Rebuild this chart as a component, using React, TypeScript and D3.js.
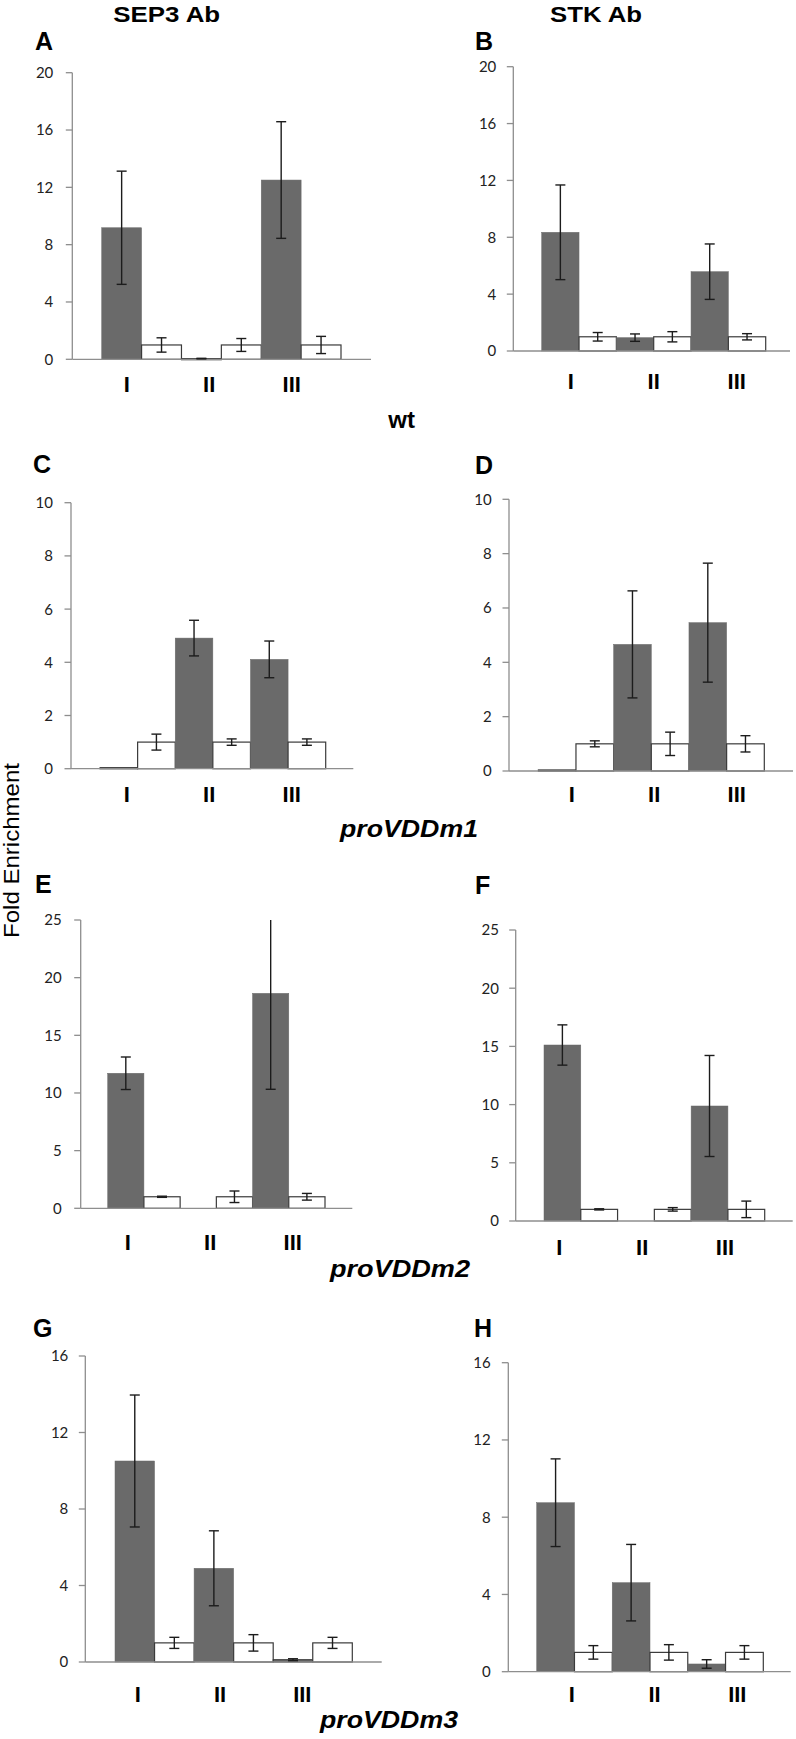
import React from "react";
import * as d3 from "d3";

// ---------- DATA ----------
const categories = ["I", "II", "III"];
const series = ["ChIP", "Control"];

const aGray = [9.18, 0.05, 12.51];
const aGrayErr = [3.95, 0.02, 4.07];
const aWhite = [1, 1, 1];
const aWhiteErr = [0.5, 0.45, 0.6];

const bGray = [8.35, 0.94, 5.58];
const bGrayErr = [3.33, 0.26, 1.95];
const bWhite = [1, 1, 1];
const bWhiteErr = [0.3, 0.36, 0.22];

const cGray = [0.04, 4.91, 4.11];
const cGrayErr = [0, 0.67, 0.69];
const cWhite = [1, 1, 1];
const cWhiteErr = [0.3, 0.12, 0.12];

const dGray = [0.04, 4.66, 5.46];
const dGrayErr = [0, 1.97, 2.19];
const dWhite = [1, 1, 1];
const dWhiteErr = [0.11, 0.43, 0.3];

const eGray = [11.71, 0, 18.64];
const eGrayErr = [1.41, 0, 8.32];
const eWhite = [1, 1, 1];
const eWhiteErr = [0.05, 0.5, 0.29];

const fGray = [15.12, 0, 9.88];
const fGrayErr = [1.73, 0, 4.34];
const fWhite = [1, 1, 1];
const fWhiteErr = [0.05, 0.15, 0.71];

const gGray = [10.51, 4.9, 0.12];
const gGrayErr = [3.45, 1.96, 0.05];
const gWhite = [1, 1, 1];
const gWhiteErr = [0.29, 0.43, 0.29];

const hGray = [8.75, 4.61, 0.4];
const hGrayErr = [2.27, 1.98, 0.22];
const hWhite = [1, 1, 1];
const hWhiteErr = [0.35, 0.4, 0.35];

const yMaxes = [20, 20, 10, 10, 25, 25, 16, 16];
const yStep = [4, 4, 2, 2, 5, 5, 4, 4];
const panelLetters = ["A", "B", "C", "D", "E", "F", "G", "H"];
const columnTitles = ["SEP3 Ab", "STK Ab"];
const rowTitles = ["wt", "proVDDm1", "proVDDm2", "proVDDm3"];
const yAxisTitle = "Fold Enrichment";

// ---------- LAYOUT ----------
type Layout = {
  axisX: number; top: number; bottom: number; axisEnd: number;
  barStart: number; barEnd: number; labelRange: [number, number];
  labelBase: number; letterX: number; letterY: number; tickGap: number;
};

const layouts: Layout[] = [
  { axisX: 72.3, top: 72.7, bottom: 359.3, axisEnd: 371, barStart: 101.7, barEnd: 341, labelRange: [126.7, 291.7], labelBase: 392, letterX: 35, letterY: 50, tickGap: 19 },
  { axisX: 513.3, top: 66.7, bottom: 351, axisEnd: 790, barStart: 541.7, barEnd: 765.7, labelRange: [570.7, 736.7], labelBase: 388.5, letterX: 475, letterY: 50, tickGap: 17 },
  { axisX: 71, top: 502.7, bottom: 768.7, axisEnd: 353.3, barStart: 100, barEnd: 325.7, labelRange: [126.7, 291.7], labelBase: 801.7, letterX: 33, letterY: 473.3, tickGap: 18 },
  { axisX: 509, top: 499.3, bottom: 771, axisEnd: 793, barStart: 538.3, barEnd: 764.3, labelRange: [571.7, 736.7], labelBase: 801.7, letterX: 475, letterY: 474, tickGap: 17.3 },
  { axisX: 80.7, top: 920, bottom: 1208.3, axisEnd: 352.3, barStart: 107.7, barEnd: 325, labelRange: [127.7, 292.7], labelBase: 1250, letterX: 35, letterY: 893.3, tickGap: 19 },
  { axisX: 515.7, top: 930, bottom: 1221, axisEnd: 792.7, barStart: 544, barEnd: 764.7, labelRange: [559.3, 725], labelBase: 1255, letterX: 475, letterY: 894, tickGap: 16.7 },
  { axisX: 85.3, top: 1356, bottom: 1662, axisEnd: 381.7, barStart: 115, barEnd: 352.3, labelRange: [137.7, 302.3], labelBase: 1701.7, letterX: 33, letterY: 1337.3, tickGap: 17 },
  { axisX: 508.3, top: 1362.7, bottom: 1671.7, axisEnd: 790.7, barStart: 536.7, barEnd: 763.3, labelRange: [571.7, 737.3], labelBase: 1701.7, letterX: 474, letterY: 1337.3, tickGap: 17.6 },
];

const panelData = [
  [aGray, aGrayErr, aWhite, aWhiteErr],
  [bGray, bGrayErr, bWhite, bWhiteErr],
  [cGray, cGrayErr, cWhite, cWhiteErr],
  [dGray, dGrayErr, dWhite, dWhiteErr],
  [eGray, eGrayErr, eWhite, eWhiteErr],
  [fGray, fGrayErr, fWhite, fWhiteErr],
  [gGray, gGrayErr, gWhite, gWhiteErr],
  [hGray, hGrayErr, hWhite, hWhiteErr],
];

const GRAY = "#6a6a6a";
const AXIS = "#8e8e8e";
const ERR = "#1c1c1c";
const SANS = "'Liberation Sans', Arial, sans-serif";
const TICKFONT = "Lato, 'Open Sans', sans-serif";

function Panel({ idx }: { idx: number }) {
  const L = layouts[idx];
  const [gray, grayErr, white, whiteErr] = panelData[idx];
  const yMax = yMaxes[idx];
  const y = d3.scaleLinear().domain([0, yMax]).range([L.bottom, L.top]);
  const x = d3.scaleBand().domain(categories).range([L.barStart, L.barEnd]).padding(0);
  const xs = d3.scaleBand().domain(series).range([0, x.bandwidth()]).padding(0);
  const lx = d3.scalePoint().domain(categories).range(L.labelRange);
  const ticks = d3.range(0, yMax + 0.001, yStep[idx]);

  const bars: any[] = [];
  categories.forEach((c, i) => {
    bars.push({ c, s: series[0], v: gray[i], e: grayErr[i] });
    bars.push({ c, s: series[1], v: white[i], e: whiteErr[i] });
  });

  return (
    <g>
      <text x={L.letterX} y={L.letterY} fontFamily={SANS} fontWeight="bold" fontSize={25} fill="#000">
        {panelLetters[idx]}
      </text>
      {/* y axis */}
      <line x1={L.axisX} x2={L.axisX} y1={y(yMax)} y2={y(0)} stroke={AXIS} strokeWidth={1.3} />
      {ticks.map((t) => (
        <g key={t}>
          <line x1={L.axisX - 6.5} x2={L.axisX} y1={y(t)} y2={y(t)} stroke={AXIS} strokeWidth={1.3} />
          <text x={L.axisX - L.tickGap} y={y(t)} dy="0.36em" textAnchor="end" fontFamily={TICKFONT} fontSize={15} fill="#222">
            {t}
          </text>
        </g>
      ))}
      {/* bars */}
      {bars.map((b, k) => {
        const x0 = (x(b.c) as number) + (xs(b.s) as number);
        const w = xs.bandwidth();
        const isGray = b.s === series[0];
        if (b.v <= 0) return null;
        const h = y(0) - y(b.v);
        return (
          <rect key={"b" + k} x={x0} y={y(b.v)} width={w} height={Math.max(h, 1.2)}
            fill={isGray ? GRAY : "#fff"}
            stroke={isGray ? (b.v < 0.2 ? "#333" : GRAY) : "#3a3a3a"}
            strokeWidth={isGray ? (b.v < 0.2 ? 1 : 0.5) : 1.2} />
        );
      })}
      {/* x axis */}
      <line x1={L.axisX} x2={L.axisEnd} y1={y(0)} y2={y(0)} stroke={AXIS} strokeWidth={1.3} />
      {/* error bars */}
      {bars.map((b, k) => {
        if (b.e <= 0) return null;
        const cx = (x(b.c) as number) + (xs(b.s) as number) + xs.bandwidth() / 2;
        const hiV = b.v + b.e;
        const clipped = hiV > yMax;
        const yHi = y(Math.min(hiV, yMax));
        const yLo = y(Math.max(b.v - b.e, 0));
        return (
          <g key={"e" + k} stroke={ERR} strokeWidth={1.4}>
            <line x1={cx} x2={cx} y1={yHi} y2={yLo} />
            {!clipped && <line x1={cx - 5} x2={cx + 5} y1={yHi} y2={yHi} />}
            <line x1={cx - 5} x2={cx + 5} y1={yLo} y2={yLo} />
          </g>
        );
      })}
      {/* category labels */}
      {categories.map((c) => (
        <text key={c} x={lx(c)} y={L.labelBase} textAnchor="middle" fontFamily={SANS} fontWeight="bold" fontSize={22} fill="#000">
          {c}
        </text>
      ))}
    </g>
  );
}

export default function App() {
  return (
    <svg width={796} height={1739} style={{ position: "absolute", left: 0, top: 0, background: "#fff" }}>
      <rect x={0} y={0} width={796} height={1739} fill="#fff" />
      <text x={166.7} y={21.7} textAnchor="middle" fontFamily={SANS} fontWeight="bold" fontSize={22} textLength={107} lengthAdjust="spacingAndGlyphs">
        {columnTitles[0]}
      </text>
      <text x={596} y={21.7} textAnchor="middle" fontFamily={SANS} fontWeight="bold" fontSize={22} textLength={92} lengthAdjust="spacingAndGlyphs">
        {columnTitles[1]}
      </text>
      <text x={401.7} y={428.3} textAnchor="middle" fontFamily={SANS} fontWeight="bold" fontSize={24}>
        {rowTitles[0]}
      </text>
      <text x={409} y={837.3} textAnchor="middle" fontFamily={SANS} fontWeight="bold" fontStyle="italic" fontSize={24} textLength={138} lengthAdjust="spacingAndGlyphs">
        {rowTitles[1]}
      </text>
      <text x={400} y={1277} textAnchor="middle" fontFamily={SANS} fontWeight="bold" fontStyle="italic" fontSize={24} textLength={140} lengthAdjust="spacingAndGlyphs">
        {rowTitles[2]}
      </text>
      <text x={389} y={1728} textAnchor="middle" fontFamily={SANS} fontWeight="bold" fontStyle="italic" fontSize={24} textLength={138} lengthAdjust="spacingAndGlyphs">
        {rowTitles[3]}
      </text>
      <text transform="translate(19,850.5) rotate(-90)" textAnchor="middle" fontFamily={SANS} fontSize={22} textLength={175} lengthAdjust="spacingAndGlyphs">
        {yAxisTitle}
      </text>
      {layouts.map((_, i) => (
        <Panel key={i} idx={i} />
      ))}
    </svg>
  );
}
